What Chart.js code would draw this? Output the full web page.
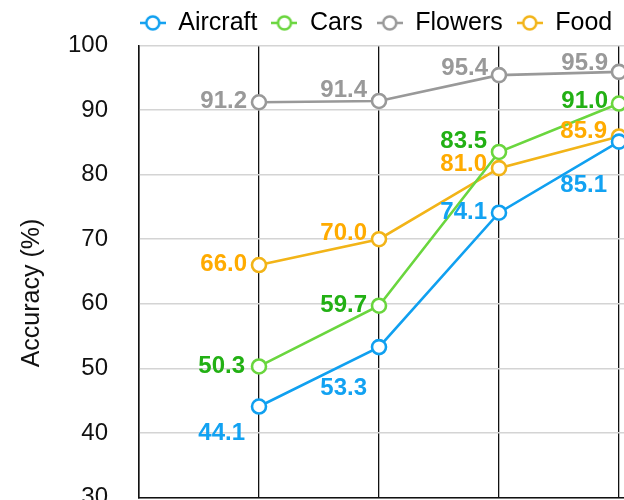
<!DOCTYPE html>
<html>
<head>
<meta charset="utf-8">
<script src="https://cdn.jsdelivr.net/npm/chart.js@4.4.0/dist/chart.umd.min.js"></script>
<style>
  html, body { margin: 0; padding: 0; background: #fff; overflow: hidden; }
  #wrap { width: 624px; height: 500px; overflow: hidden; }
</style>
</head>
<body>
<div id="wrap">
  <canvas id="myChart" width="760" height="543"></canvas>
</div>
<script>
// data
const steps = [1, 2, 3, 4];
const seriesNames = ["Aircraft", "Cars", "Flowers", "Food"];
const aircraft = [44.1, 53.3, 74.1, 85.1];
const cars = [50.3, 59.7, 83.5, 91.0];
const flowers = [91.2, 91.4, 95.4, 95.9];
const food = [66.0, 70.0, 81.0, 85.9];
const yTicks = [30, 40, 50, 60, 70, 80, 90, 100];
const yTitle = "Accuracy (%)";

const FONT = "'Liberation Sans', Arial, sans-serif";

// line colour, label colour, label offsets (dx from point to text right edge, dy)
const looks = [
  { line: "#10a0f0", text: "#12a2f2", offsets: [[-14, 27], [-12, 41], [-12, 0], [-12, 44]] },
  { line: "#6ad63e", text: "#22b014", offsets: [[-14, 0], [-12, 0], [-12, -11], [-11, -2]] },
  { line: "#999999", text: "#999999", offsets: [[-12, -1], [-12, -11], [-11, -7], [-11, -9]] },
  { line: "#f2b418", text: "#ffab00", offsets: [[-12, -1], [-12, -6], [-12, -4], [-12, -5]] }
];

const allValues = [aircraft, cars, flowers, food];

// legend marker: short line with an open circle
function makeMarker(color) {
  const c = document.createElement("canvas");
  c.width = 26;
  c.height = 20;
  const g = c.getContext("2d");
  g.strokeStyle = color;
  g.lineWidth = 2.5;
  g.beginPath();
  g.moveTo(0, 10);
  g.lineTo(26, 10);
  g.stroke();
  g.beginPath();
  g.arc(13, 10, 6.5, 0, Math.PI * 2);
  g.fillStyle = "#fff";
  g.fill();
  g.stroke();
  return c;
}

const datasets = seriesNames.map((name, i) => ({
  label: name,
  data: steps.map((s, j) => ({ x: s, y: allValues[i][j] })),
  borderColor: looks[i].line,
  borderWidth: 2.6,
  pointRadius: 7,
  pointBorderWidth: 2.6,
  pointBackgroundColor: "#fff",
  pointBorderColor: looks[i].line,
  pointStyle: "circle",
  fill: false,
  tension: 0
}));

// value labels next to each point, plus the y title (the original figure was cropped,
// so the title sits below the visible plot's middle)
const valueLabels = {
  id: "valueLabels",
  afterDatasetsDraw(chart) {
    const ctx = chart.ctx;
    ctx.save();
    ctx.font = "bold 24px " + FONT;
    ctx.textAlign = "right";
    ctx.textBaseline = "middle";
    chart.data.datasets.forEach((ds, i) => {
      const meta = chart.getDatasetMeta(i);
      meta.data.forEach((pt, j) => {
        const [dx, dy] = looks[i].offsets[j];
        ctx.fillStyle = looks[i].text;
        ctx.fillText(allValues[i][j].toFixed(1), pt.x + dx, pt.y + dy);
      });
    });
    ctx.restore();

    ctx.save();
    ctx.translate(32, 293);
    ctx.rotate(-Math.PI / 2);
    ctx.font = "25px " + FONT;
    ctx.fillStyle = "#111";
    ctx.textAlign = "center";
    ctx.textBaseline = "middle";
    ctx.fillText(yTitle, 0, 0);
    ctx.restore();
  }
};

const ctx = document.getElementById("myChart").getContext("2d");
const myChart = new Chart(ctx, {
  type: "line",
  data: { datasets },
  options: {
    responsive: false,
    animation: false,
    layout: { padding: { top: -7, left: 13, right: 21, bottom: 30 } },
    plugins: {
      tooltip: { enabled: false },
      legend: {
        position: "top",
        labels: {
          usePointStyle: true,
          pointStyleWidth: 26,
          padding: 14,
          color: "#111",
          font: { family: FONT, size: 25 },
          generateLabels(chart) {
            return chart.data.datasets.map((ds, i) => ({
              text: ds.label,
              pointStyle: makeMarker(looks[i].line),
              fillStyle: "#fff",
              strokeStyle: looks[i].line,
              lineWidth: 0,
              datasetIndex: i,
              hidden: false
            }));
          }
        }
      }
    },
    scales: {
      x: {
        type: "linear",
        min: 0,
        max: 5,
        ticks: { display: false, stepSize: 1 },
        grid: { color: "#111", lineWidth: 1.3, drawTicks: false },
        border: { color: "#111", width: 1.5 }
      },
      y: {
        min: 30,
        max: 100,
        afterBuildTicks(axis) {
          axis.ticks = yTicks.map(v => ({ value: v }));
        },
        afterFit(axis) {
          axis.width = 126;
        },
        ticks: {
          color: "#111",
          padding: 31,
          font: { family: FONT, size: 24 }
        },
        grid: { color: "#d4d4d4", lineWidth: 1.5, drawTicks: false },
        border: { color: "#111", width: 1.5 },
        title: { display: false }
      }
    }
  },
  plugins: [valueLabels]
});
</script>
</body>
</html>
